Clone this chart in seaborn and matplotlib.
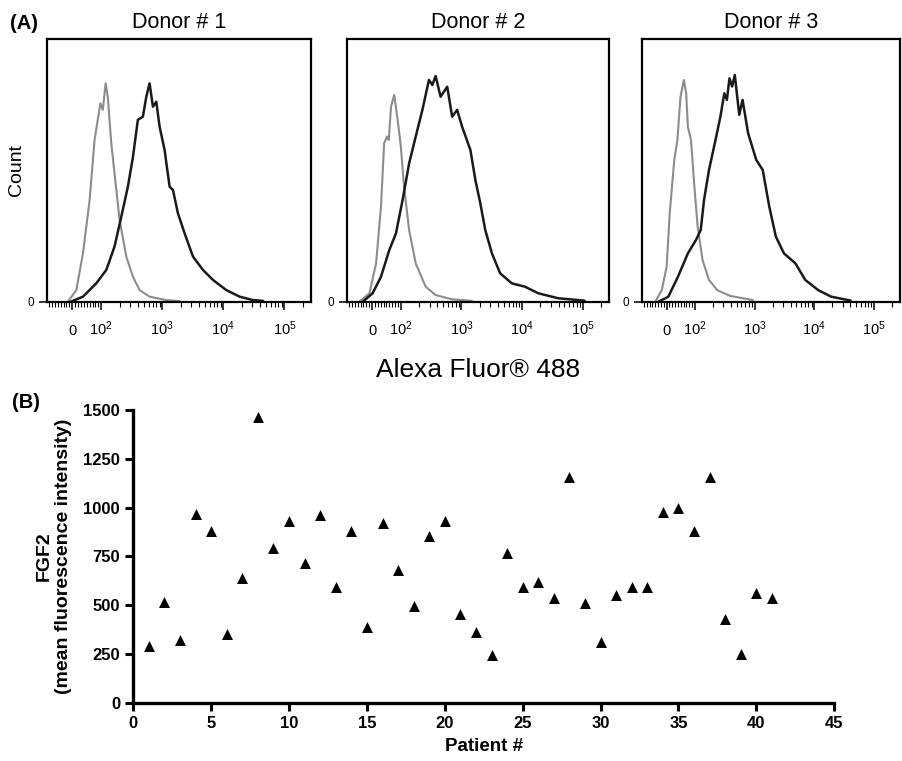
import matplotlib
matplotlib.use('Agg')
import matplotlib.pyplot as plt
import seaborn as sns
import pandas as pd

sns.set_theme(style='ticks')
plt.rcParams['font.family'] = ['Liberation Sans', 'DejaVu Sans']
plt.rcParams['mathtext.fontset'] = 'custom'
plt.rcParams['mathtext.rm'] = 'Liberation Sans'
plt.rcParams['mathtext.it'] = 'Liberation Sans:italic'
for key in ['text.color', 'axes.labelcolor', 'xtick.color', 'ytick.color', 'axes.edgecolor']:
    plt.rcParams[key] = 'black'

# ---- panel A: flow histograms (x = fluorescence, y = % of max count) ----
donor_titles = ['Donor # 1', 'Donor # 2', 'Donor # 3']

d1_gray_x = [-15, 14, 37, 60, 77, 88, 97, 106, 118, 128, 146, 165, 200, 257, 330, 425, 619, 1164, 1923]
d1_gray_y = [0, 4.4, 18.4, 38.8, 61.6, 69.3, 75.6, 73.1, 83.2, 78.1, 60.4, 48.9, 31.1, 17.2, 9.5, 4.4, 1.9, 0.6, 0.2]
d1_black_x = [-5, 37, 83, 121, 165, 213, 273, 330, 398, 481, 547, 619, 702, 797, 903, 1090, 1318, 1493,
              1803, 2323, 3177, 4634, 6745, 11200, 18500, 30500, 44600]
d1_black_y = [0, 1.9, 7.0, 12.1, 21.0, 32.4, 43.8, 55.0, 69.3, 70.5, 78.1, 83.2, 74.3, 76.2, 66.7, 57.8, 43.8,
              42.6, 33.7, 26.0, 17.2, 12.1, 8.3, 4.4, 1.9, 0.6, 0.3]

d2_gray_x = [-44, -9, 14, 31, 42, 52, 58, 66, 77, 89, 100, 113, 137, 176, 257, 375, 703, 1496]
d2_gray_y = [0, 3.2, 14.6, 36.2, 60.4, 62.9, 61.6, 74.3, 78.8, 69.3, 59.1, 43.8, 27.3, 14.6, 5.7, 2.5, 0.9, 0.3]
d2_black_x = [-32, 2, 31, 60, 83, 107, 137, 176, 227, 291, 331, 375, 453, 583, 703, 849, 1026, 1406, 1698,
              2049, 2474, 3186, 4356, 6770, 11200, 18500, 39400, 107000]
d2_black_y = [0, 3.2, 9.5, 19.7, 26.0, 38.8, 52.7, 62.9, 73.1, 84.5, 82.6, 86.0, 78.1, 81.9, 70.5, 73.1, 66.7,
              57.8, 46.4, 37.5, 27.3, 18.4, 10.8, 7.0, 5.7, 3.2, 1.3, 0.4]

d3_gray_x = [-40, -17, 0, 11, 27, 38, 49, 61, 69, 75, 86, 98, 111, 134, 172, 236, 389, 938]
d3_gray_y = [0, 4.4, 13.3, 33.7, 54.0, 61.6, 78.1, 84.5, 79.4, 66.7, 61.6, 43.8, 28.6, 15.9, 8.3, 4.4, 2.2, 0.6]
d3_black_x = [-28, 6, 40, 75, 104, 125, 142, 172, 221, 267, 310, 343, 379, 420, 465, 553, 628, 778, 1066,
              1368, 1762, 2270, 3105, 4830, 7050, 11640, 19200, 40800]
d3_black_y = [0, 1.9, 9.5, 18.4, 23.5, 27.3, 38.8, 50.2, 61.6, 70.5, 79.4, 76.9, 85.1, 82.0, 86.4, 71.2, 76.9,
              64.2, 54.0, 50.2, 36.2, 24.8, 18.4, 14.6, 8.3, 4.4, 1.9, 0.4]

curves = [(d1_gray_x, d1_gray_y, d1_black_x, d1_black_y),
          (d2_gray_x, d2_gray_y, d2_black_x, d2_black_y),
          (d3_gray_x, d3_gray_y, d3_black_x, d3_black_y)]

major_ticks = [0, 100, 1000, 10000, 100000]
major_labels = ['0', '$10^{2}$', '$10^{3}$', '$10^{4}$', '$10^{5}$']
minor_ticks = ([-80, -70, -60, -50, -40, -30, -20, -10, 10, 20, 30, 40, 50, 60, 70, 80, 90]
               + [k * 100 for k in range(2, 10)] + [k * 1000 for k in range(2, 10)]
               + [k * 10000 for k in range(2, 10)] + [200000])

# ---- panel B: FGF2 per patient ----
patient = list(range(1, 42))
fgf2 = [292, 514, 321, 965, 880, 352, 637, 1466, 794, 933, 718, 962, 595, 880, 386, 919, 678, 495, 854, 933,
        454, 364, 244, 765, 591, 618, 536, 1155, 513, 313, 552, 591, 591, 975, 998, 882, 1155, 430, 249, 564, 538]

fig = plt.figure(figsize=(9.02, 7.61), dpi=100)

hist_pos = [[0.0518, 0.6036, 0.2927, 0.3448],
            [0.3844, 0.6036, 0.2905, 0.3448],
            [0.7114, 0.6036, 0.2860, 0.3448]]

for i, pos in enumerate(hist_pos):
    ax = fig.add_axes(pos)
    gx, gy, bx, by = curves[i]
    sns.lineplot(x=gx, y=gy, ax=ax, color='#8c8c8c', linewidth=1.5, estimator=None, sort=False)
    sns.lineplot(x=bx, y=by, ax=ax, color='#1a1a1a', linewidth=1.8, estimator=None, sort=False)
    ax.set_xscale('symlog', linthresh=100, linscale=0.4275)
    ax.set_xlim(-88, 270000)
    ax.set_ylim(0, 100)
    ax.set_xticks(major_ticks)
    ax.set_xticklabels(major_labels)
    ax.set_xticks(minor_ticks, minor=True)
    ax.set_yticks([0])
    ax.set_yticklabels(['0'])
    for s in ax.spines.values():
        s.set_color('black')
        s.set_linewidth(1.6)
    ax.tick_params(axis='x', which='major', direction='out', length=6, width=1.1, labelsize=10.5, pad=18)
    ax.tick_params(axis='x', which='minor', direction='out', length=3.5, width=0.8)
    ax.tick_params(axis='y', direction='out', length=6, width=1.1, labelsize=8.5, pad=3)
    for lbl in ax.get_xticklabels():
        lbl.set_verticalalignment('baseline')
    ax.set_title(donor_titles[i], fontsize=15.5, pad=8)
    ax.set_xlabel('')
    if i == 0:
        ax.set_ylabel('Count', fontsize=14, labelpad=2)
    else:
        ax.set_ylabel('')

fig.text(0.5305, 0.5138, 'Alexa Fluor® 488', fontsize=19, ha='center', va='center')
fig.text(0.011, 0.9685, '(A)', fontsize=14.5, fontweight='bold', va='center')
fig.text(0.013, 0.4717, '(B)', fontsize=14.5, fontweight='bold', va='center')

ax = fig.add_axes([0.1478, 0.0766, 0.777, 0.3846])
df = pd.DataFrame({'patient': patient, 'fgf2': fgf2})
sns.scatterplot(data=df, x='patient', y='fgf2', marker='^', s=62, color='black', edgecolor='black',
                linewidth=0, ax=ax, clip_on=False)
ax.set_xlim(0, 45)
ax.set_ylim(0, 1500)
ax.set_xticks(range(0, 46, 5))
ax.set_yticks(range(0, 1501, 250))
sns.despine(ax=ax)
for s in ['left', 'bottom']:
    ax.spines[s].set_linewidth(2.4)
    ax.spines[s].set_color('black')
ax.tick_params(direction='out', length=5.5, width=2.2, labelsize=12, pad=4)
for lbl in ax.get_xticklabels() + ax.get_yticklabels():
    lbl.set_fontweight('bold')
ax.set_xlabel('Patient #', fontsize=13.5, fontweight='bold', labelpad=5)
ax.set_ylabel('FGF2\n(mean fluorescence intensity)', fontsize=14, fontweight='bold', labelpad=8)

fig.savefig('out.png', dpi=100)
